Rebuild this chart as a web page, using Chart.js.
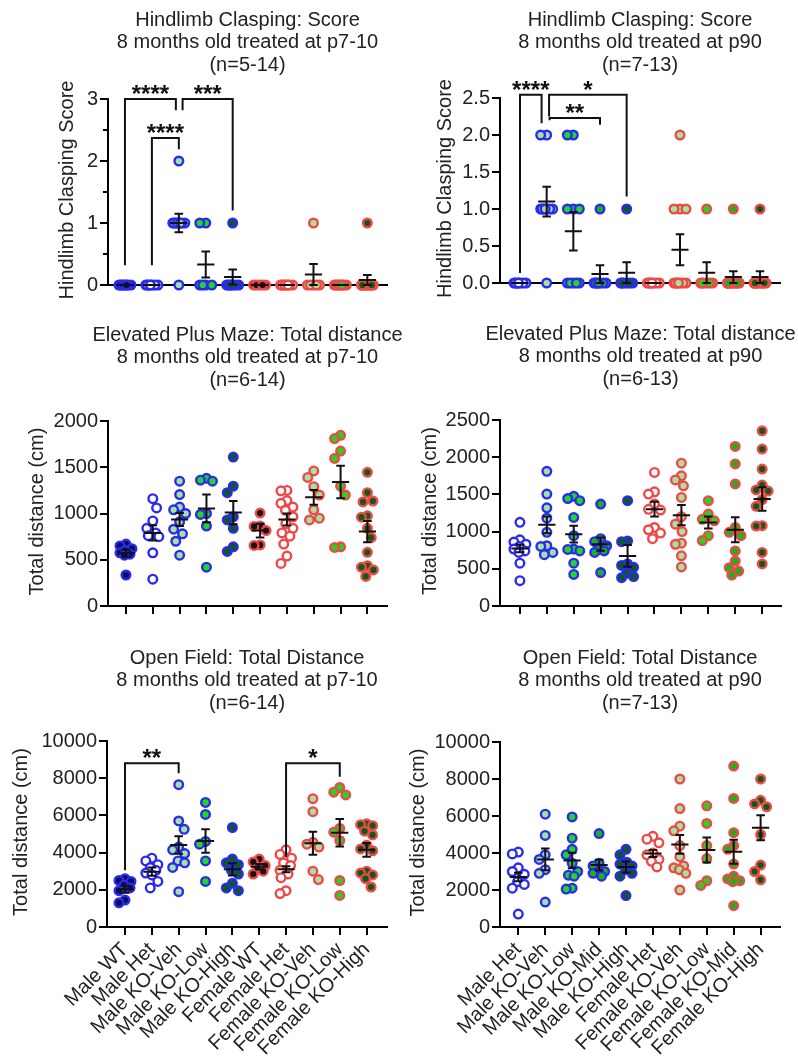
<!DOCTYPE html>
<html><head><meta charset="utf-8">
<script src="https://cdn.jsdelivr.net/npm/chart.js@4.4.1/dist/chart.umd.min.js"></script>
<style>
html,body{margin:0;padding:0;background:#fff;}
body{width:798px;height:1061px;position:relative;overflow:hidden;}
canvas{position:absolute;}
</style></head><body>
<canvas id="c1"></canvas><canvas id="c2"></canvas>
<canvas id="c3"></canvas><canvas id="c4"></canvas>
<canvas id="c5"></canvas><canvas id="c6"></canvas>
<script>
// ---------- categories ----------
const groupsP7 = ['Male WT','Male Het','Male KO-Veh','Male KO-Low','Male KO-High','Female WT','Female Het','Female KO-Veh','Female KO-Low','Female KO-High'];
const groupsP90 = ['Male Het','Male KO-Veh','Male KO-Low','Male KO-Mid','Male KO-High','Female Het','Female KO-Veh','Female KO-Low','Female KO-Mid','Female KO-High'];

// ---------- Hindlimb clasping, treated p7-10 ----------
const hcP7Values = [
  [0,0,0,0,0,0,0,0],
  [0,0,0,0,0,0,0],
  [2,1,1,1,1,1,1,1,1,0],
  [1,1,0,0,0,0],
  [1,0,0,0,0,0,0,0],
  [0,0,0,0,0],
  [0,0,0,0,0,0,0,0],
  [1,0,0,0,0,0],
  [0,0,0,0,0,0,0,0],
  [1,0,0,0,0,0,0,0,0,0,0,0]];
const hcP7Mean = [0,0,1.0,0.33,0.13,0,0,0.17,0,0.08];
const hcP7Sem  = [0,0,0.15,0.21,0.12,0,0,0.17,0,0.08];
const hcP7Ticks = [0,1,2,3];
const hcP7Sig = [
  {from:0, to:1.89, top:3.0, fromEnd:0.32, toEnd:2.82, stars:'****'},
  {from:2.14, to:4, top:3.0, fromEnd:2.82, toEnd:1.2, stars:'***'},
  {from:1, to:2, top:2.37, fromEnd:0.32, toEnd:2.19, stars:'****'}];

// ---------- Hindlimb clasping, treated p90 ----------
const hcP90Values = [
  [0,0,0,0,0,0,0],
  [2,2,1,1,1,1,1,1,1,0],
  [2,2,1,1,1,0,0,0,0,0],
  [1,0,0,0,0,0,0,0],
  [1,0,0,0,0,0,0],
  [0,0,0,0,0,0,0],
  [2,1,1,1,0,0,0,0,0,0,0],
  [1,0,0,0,0,0,0],
  [1,0,0,0,0,0,0,0,0,0,0,0],
  [1,0,0,0,0,0,0,0,0,0,0,0]];
const hcP90Mean = [0,1.1,0.7,0.12,0.14,0,0.45,0.14,0.08,0.08];
const hcP90Sem  = [0,0.2,0.26,0.12,0.14,0,0.21,0.14,0.08,0.08];
const hcP90Ticks = [0,0.5,1,1.5,2,2.5];
const hcP90Sig = [
  {from:0, to:0.81, top:2.545, fromEnd:0.135, toEnd:2.16, stars:'****'},
  {from:1.09, to:4, top:2.545, fromEnd:2.25, toEnd:1.17, stars:'*'},
  {from:1.11, to:3, top:2.23, fromEnd:2.2, toEnd:2.14, stars:'**'}];

// ---------- Elevated plus maze, treated p7-10 ----------
const epmP7Values = [
  [670,650,620,600,575,560,550,335],
  [1160,1060,920,840,790,760,750,575,290],
  [1350,1205,1070,1040,1000,910,830,780,700,550],
  [1380,1360,1350,1000,990,865,420],
  [1610,1295,1225,965,930,840,640,590],
  [1005,865,860,815,660,655],
  [1250,1245,1140,1110,1070,1035,965,890,840,790,755,670,540,460],
  [1460,1390,1290,1200,1040,950,930],
  [1845,1810,1675,1595,1295,1200,640,633],
  [1445,1225,1135,1125,975,960,840,740,580,435,420,390,320]];
const epmP7Mean = [570,790,935,1055,1010,815,935,1175,1340,805];
const epmP7Sem  = [38,82,70,150,125,75,65,80,175,115];
const epmP7Ticks = [0,500,1000,1500,2000];

// ---------- Elevated plus maze, treated p90 ----------
const epmP90Values = [
  [1125,890,860,830,800,765,740,720,575,340],
  [1810,1505,1320,1180,990,810,800,720,690],
  [1475,1445,1415,1190,945,765,760,740,575,425],
  [1370,905,865,810,760,740,720,450],
  [1415,875,865,565,545,520,440,395,380],
  [1795,1535,1505,1370,1300,1290,1055,1025,980,905],
  [1920,1750,1695,1615,1460,1200,1100,1000,845,830,675,525],
  [1415,1235,1165,1145,945,880],
  [2145,1910,1640,1055,990,945,740,605,515,470,415],
  [2355,2110,1840,1625,1560,1545,1430,1340,1080,1075,720,565]];
const epmP90Mean = [772,1091,965,831,673,1302,1221,1122,1024,1437];
const epmP90Sem  = [50,112,112,90,146,100,135,80,168,158];
const epmP90Ticks = [0,500,1000,1500,2000,2500];

// ---------- Open field, treated p7-10 ----------
const ofP7Values = [
  [2600,2500,2450,2250,2100,1950,1450,1300],
  [3700,3550,3350,3200,3050,2900,2800,2450,2100],
  [7650,5700,5250,4300,4150,3950,3550,3450,3200,1900],
  [6700,6050,4600,4450,3550,2450],
  [5350,3650,3450,3350,3050,2850,2350,2100,1950],
  [3650,3500,3300,3150,3000,2850],
  [4150,3900,3700,3450,3300,3050,2850,2650,1950,1800],
  [6900,6200,4550,4450,4300,3000,2550],
  [7500,7250,7100,5300,5100,4650,2500,1700],
  [5550,5500,5450,5150,4950,4400,4200,4100,3000,2900,2800,2600,2150]];
const ofP7Mean = [2030,2975,4408,4623,3100,3243,3100,4500,5070,4150];
const ofP7Sem  = [190,220,475,630,330,150,160,620,740,370];
const ofP7Ticks = [0,2000,4000,6000,8000,10000];
const ofP7Sig = [
  {from:0, to:2, top:8800, fromEnd:3050, toEnd:8260, stars:'**'},
  {from:6, to:8, top:8800, fromEnd:3770, toEnd:8080, stars:'*'}];

// ---------- Open field, treated p90 ----------
const ofP90Values = [
  [4050,3950,3200,3000,2850,2450,2300,2100,700],
  [6100,4950,3900,3650,3100,2900,1350],
  [5950,4800,4200,3900,3450,3000,2800,2750,2100,2050],
  [5050,3450,3300,3000,2950,2900,2750],
  [4200,3900,3500,3400,3300,3100,2900,2750,1700],
  [4900,4750,4550,4000,3900,3650,3550,3250],
  [8000,6400,5450,5200,4400,3800,3300,3200,3100,2900,2000],
  [6550,5600,4400,3700,2500,2250],
  [8700,6950,5100,4400,4200,3400,2750,2600,2500,2450,1150],
  [8000,6850,6650,6500,5000,3350,3000,2550]];
const ofP90Mean = [2700,3654,3600,3348,3240,3978,4464,4158,4068,5364];
const ofP90Sem  = [230,590,420,290,300,190,510,675,650,675];
const ofP90Ticks = [0,2000,4000,6000,8000,10000];

// ---------- styles ----------
const BLUE = '#2a2af0', RED = '#f04848';
const F_WHITE = '#ffffff', F_LIGHT = '#a2e49c', F_BRIGHT = '#1fd81f', F_MID = '#18b418', F_DARK = '#0c5c18', F_NAVY = '#0d0d55', F_BLACK = '#161212';
const fillsP7  = [F_NAVY, F_WHITE, F_LIGHT, F_BRIGHT, F_DARK, F_BLACK, F_WHITE, F_LIGHT, F_BRIGHT, F_DARK];
const fillsP90 = [F_WHITE, F_LIGHT, F_BRIGHT, F_MID, F_DARK, F_WHITE, F_LIGHT, F_BRIGHT, F_MID, F_DARK];
const borders  = [BLUE, BLUE, BLUE, BLUE, BLUE, RED, RED, RED, RED, RED];
const FONT = '"Liberation Sans", Arial, Helvetica, sans-serif';
const TXT = '#222';
Chart.defaults.font.family = FONT;
Chart.defaults.font.size = 20;
Chart.defaults.color = TXT;

// beeswarm horizontal spread (pixel based), returns offsets in category units
function swarm(vals, pxX, pxY) {
  const d = 10, maxOff = 6;
  const placed = [], offs = new Array(vals.length);
  const order = vals.map((v, i) => i).sort((a, b) => vals[b] - vals[a]);
  for (const i of order) {
    const y = vals[i] * pxY;
    const near = placed.filter(p => Math.abs(p.y - y) < d);
    const cands = [0];
    near.forEach(p => { const dx = Math.sqrt(d * d - (p.y - y) ** 2); cands.push(p.x + dx, p.x - dx); });
    cands.sort((a, b) => Math.abs(a) - Math.abs(b) || b - a);
    let best = null;
    for (const c of cands) {
      if (Math.abs(c) > maxOff + 1e-9) continue;
      if (near.every(p => Math.hypot(p.x - c, p.y - y) >= d - 1e-6)) { best = c; break; }
    }
    if (best === null) {
      let bestScore = -1;
      for (let k = 0; k <= 24; k++) {
        const c = -maxOff + k * maxOff / 12;
        const s = Math.min(...near.map(p => Math.hypot(p.x - c, p.y - y)));
        if (s > bestScore + 1e-9) { bestScore = s; best = c; }
      }
    }
    placed.push({x: best, y});
    offs[i] = best / pxX;
  }
  return offs;
}

function makeDecor(cfg) {
  return {
    id: 'decor_' + cfg.id,
    afterDatasetsDraw(chart) {
      const ctx = chart.ctx, xs = chart.scales.x, ys = chart.scales.y;
      ctx.save();
      ctx.strokeStyle = '#111'; ctx.lineWidth = 2; ctx.lineCap = 'butt';
      cfg.mean.forEach((m, i) => {
        const s = cfg.sem[i];
        const ym = ys.getPixelForValue(m);
        ctx.beginPath();
        ctx.moveTo(xs.getPixelForValue(i - 0.32), ym); ctx.lineTo(xs.getPixelForValue(i + 0.32), ym);
        if (s > 0) {
          const yt = ys.getPixelForValue(m + s), yb = ys.getPixelForValue(m - s);
          const xc = xs.getPixelForValue(i);
          ctx.moveTo(xc, yt); ctx.lineTo(xc, yb);
          ctx.moveTo(xs.getPixelForValue(i - 0.16), yt); ctx.lineTo(xs.getPixelForValue(i + 0.16), yt);
          ctx.moveTo(xs.getPixelForValue(i - 0.16), yb); ctx.lineTo(xs.getPixelForValue(i + 0.16), yb);
        }
        ctx.stroke();
      });
      ctx.restore();
    },
    afterDraw(chart) {
      const ctx = chart.ctx, xs = chart.scales.x, ys = chart.scales.y;
      ctx.save();
      // titles
      ctx.fillStyle = TXT; ctx.font = '20px ' + FONT; ctx.textAlign = 'center'; ctx.textBaseline = 'middle';
      const cx = (cfg.L + cfg.R) / 2 - cfg.cl;
      cfg.title.forEach((t, i) => ctx.fillText(t, cx, cfg.titleY - cfg.ct + i * 22.7));
      // y axis title
      ctx.save();
      ctx.translate(cfg.yTitleX - cfg.cl, (cfg.T + cfg.B) / 2 - 2 - cfg.ct);
      ctx.rotate(-Math.PI / 2);
      ctx.fillText(cfg.yTitle, 0, 0);
      ctx.restore();
      // minor ticks
      ctx.strokeStyle = '#000'; ctx.lineWidth = 2;
      (cfg.minor || []).forEach(v => {
        const y = Math.round(ys.getPixelForValue(v));
        ctx.beginPath(); ctx.moveTo(chart.chartArea.left - 5, y); ctx.lineTo(chart.chartArea.left, y); ctx.stroke();
      });
      // significance brackets
      ctx.strokeStyle = '#111'; ctx.lineWidth = 2; ctx.lineJoin = 'miter';
      (cfg.sig || []).forEach(b => {
        const x1 = xs.getPixelForValue(b.from), x2 = xs.getPixelForValue(b.to);
        const yt = ys.getPixelForValue(b.top);
        ctx.beginPath();
        ctx.moveTo(x1, ys.getPixelForValue(b.fromEnd)); ctx.lineTo(x1, yt);
        ctx.lineTo(x2, yt); ctx.lineTo(x2, ys.getPixelForValue(b.toEnd));
        ctx.stroke();
        ctx.font = 'bold 24px ' + FONT; ctx.textAlign = 'center'; ctx.textBaseline = 'alphabetic';
        ctx.fillStyle = '#111';
        ctx.fillText(b.stars, (x1 + x2) / 2, yt + 3);
      });
      ctx.restore();
    }
  };
}

function makePanel(cfg) {
  const canvas = document.getElementById(cfg.id);
  canvas.width = cfg.cw; canvas.height = cfg.ch;
  canvas.style.left = cfg.cl + 'px'; canvas.style.top = cfg.ct + 'px';
  canvas.style.width = cfg.cw + 'px'; canvas.style.height = cfg.ch + 'px';
  const pxX = (cfg.R - cfg.L) / (cfg.xMax - cfg.xMin);
  const pxY = (cfg.B - cfg.T) / (cfg.yMax - cfg.yMin);
  const datasets = cfg.values.map((vals, i) => {
    const offs = swarm(vals, pxX, pxY);
    return {
      data: vals.map((v, k) => ({x: i + offs[k], y: v})),
      backgroundColor: cfg.fills[i], borderColor: borders[i],
      pointRadius: 4.3, pointHoverRadius: 4.3, pointBorderWidth: 2.4, clip: false, showLine: false
    };
  });
  new Chart(canvas, {
    type: 'scatter',
    data: {datasets},
    options: {
      responsive: false, animation: false, events: [], devicePixelRatio: 1,
      layout: {padding: {top: cfg.T - cfg.ct, right: cfg.cl + cfg.cw - cfg.R, left: 0, bottom: 0}},
      plugins: {legend: {display: false}, tooltip: {enabled: false}, title: {display: false}},
      scales: {
        x: {
          type: 'linear', min: cfg.xMin, max: cfg.xMax, z: 1,
          afterBuildTicks: s => { s.ticks = cfg.categories.map((c, i) => ({value: i})); },
          ticks: {display: cfg.showLabels, autoSkip: false, minRotation: 45, maxRotation: 45, padding: 3,
                  color: TXT, font: {size: 20}, callback: v => cfg.categories[Math.round(v)]},
          grid: {drawOnChartArea: false, drawTicks: cfg.xTicks, tickLength: 8, lineWidth: 2, color: '#000'},
          border: {display: true, color: '#000', width: 2},
          afterFit: s => { s.height = cfg.ct + cfg.ch - cfg.B; }
        },
        y: {
          type: 'linear', min: cfg.yMin, max: cfg.yMax,
          afterBuildTicks: s => { s.ticks = cfg.yTicks.map(v => ({value: v})); },
          ticks: {padding: 2, color: TXT, font: {size: 20}, callback: v => cfg.yFmt ? v.toFixed(1) : String(v)},
          grid: {drawOnChartArea: false, drawTicks: true, tickLength: 8, lineWidth: 2, color: '#000'},
          border: {display: true, color: '#000', width: 2},
          afterFit: s => { s.width = cfg.L - cfg.cl; }
        }
      }
    },
    plugins: [makeDecor(cfg)]
  });
}

makePanel({id: 'c1', cl: 0, ct: 0, cw: 410, ch: 300, L: 108, R: 387, T: 99, B: 285,
  xMin: -0.63, xMax: 9.73, yMin: 0, yMax: 3, yTicks: hcP7Ticks, minor: [0.5, 1.5, 2.5],
  categories: groupsP7, values: hcP7Values, mean: hcP7Mean, sem: hcP7Sem, sig: hcP7Sig, fills: fillsP7,
  title: ['Hindlimb Clasping: Score', '8 months old treated at p7-10', '(n=5-14)'], titleY: 20,
  yTitle: 'Hindlimb Clasping Score', yTitleX: 67, xTicks: false, showLabels: false});

makePanel({id: 'c2', cl: 399, ct: 0, cw: 399, ch: 300, L: 500, R: 780, T: 98, B: 283,
  xMin: -0.75, xMax: 9.75, yMin: 0, yMax: 2.5, yTicks: hcP90Ticks, yFmt: true,
  categories: groupsP90, values: hcP90Values, mean: hcP90Mean, sem: hcP90Sem, sig: hcP90Sig, fills: fillsP90,
  title: ['Hindlimb Clasping: Score', '8 months old treated at p90', '(n=7-13)'], titleY: 20,
  yTitle: 'Hindlimb Clasping Score', yTitleX: 445, xTicks: false, showLabels: false});

makePanel({id: 'c3', cl: 0, ct: 310, cw: 410, ch: 320, L: 108, R: 387, T: 421, B: 606,
  xMin: -0.67, xMax: 9.73, yMin: 0, yMax: 2000, yTicks: epmP7Ticks,
  categories: groupsP7, values: epmP7Values, mean: epmP7Mean, sem: epmP7Sem, fills: fillsP7,
  title: ['Elevated Plus Maze: Total distance', '8 months old treated at p7-10', '(n=6-14)'], titleY: 335,
  yTitle: 'Total distance (cm)', yTitleX: 37, xTicks: true, showLabels: false});

makePanel({id: 'c4', cl: 399, ct: 310, cw: 399, ch: 320, L: 500, R: 781, T: 420, B: 606,
  xMin: -0.74, xMax: 9.7, yMin: 0, yMax: 2500, yTicks: epmP90Ticks,
  categories: groupsP90, values: epmP90Values, mean: epmP90Mean, sem: epmP90Sem, fills: fillsP90,
  title: ['Elevated Plus Maze: Total distance', '8 months old treated at p90', '(n=6-13)'], titleY: 334,
  yTitle: 'Total distance (cm)', yTitleX: 430, xTicks: true, showLabels: false});

makePanel({id: 'c5', cl: 0, ct: 630, cw: 410, ch: 431, L: 107, R: 387, T: 741, B: 927,
  xMin: -0.67, xMax: 9.76, yMin: 0, yMax: 10000, yTicks: ofP7Ticks,
  categories: groupsP7, values: ofP7Values, mean: ofP7Mean, sem: ofP7Sem, sig: ofP7Sig, fills: fillsP7,
  title: ['Open Field: Total Distance', '8 months old treated at p7-10', '(n=6-14)'], titleY: 658,
  yTitle: 'Total distance (cm)', yTitleX: 21, xTicks: true, showLabels: true});

makePanel({id: 'c6', cl: 399, ct: 630, cw: 399, ch: 431, L: 500, R: 780, T: 742, B: 927,
  xMin: -0.68, xMax: 9.72, yMin: 0, yMax: 10000, yTicks: ofP90Ticks,
  categories: groupsP90, values: ofP90Values, mean: ofP90Mean, sem: ofP90Sem, fills: fillsP90,
  title: ['Open Field: Total Distance', '8 months old treated at p90', '(n=7-13)'], titleY: 658,
  yTitle: 'Total distance (cm)', yTitleX: 418, xTicks: true, showLabels: true});
</script>
</body></html>
